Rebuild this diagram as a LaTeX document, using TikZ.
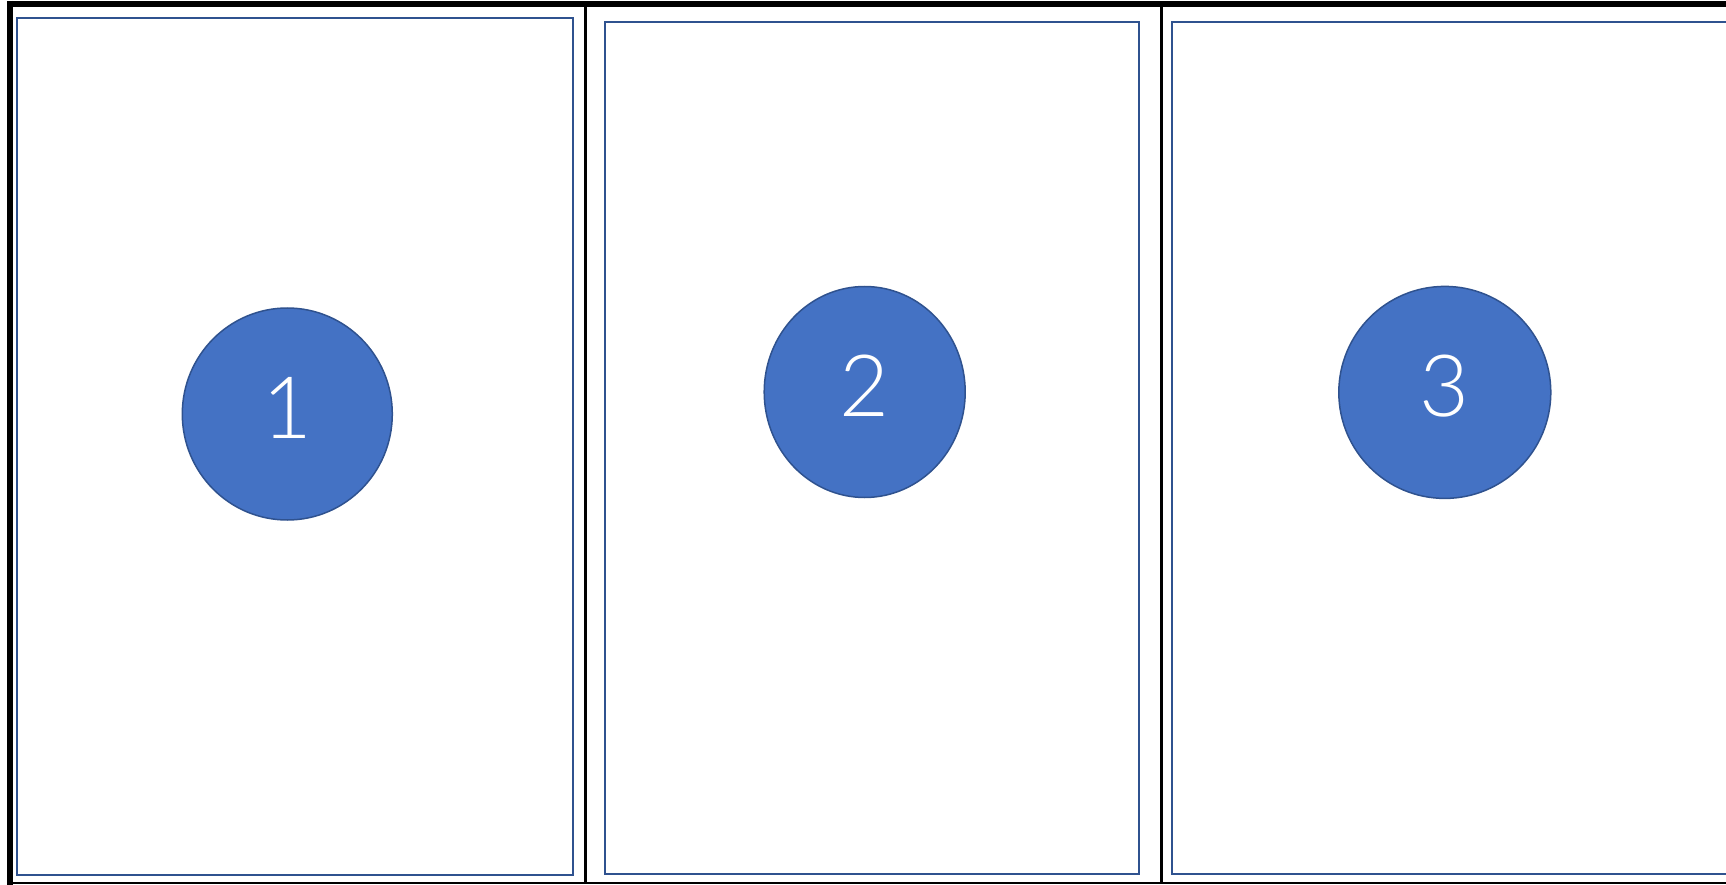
\documentclass[tikz,border=0pt]{standalone}
\usepackage{fontspec}
\setmainfont{Carlito}
\newfontfamily\numfont{Lato Light}
\usetikzlibrary{shapes.geometric}
\definecolor{accfill}{HTML}{4472C4}
\definecolor{accline}{HTML}{2F528F}
\tikzset{
  panel/.style={draw=accline, line width=2pt},
  frame/.style={draw=black},
  disc/.style={ellipse, fill=accfill, draw=accline, line width=1.5pt, inner sep=0pt},
  num/.style={text=white, font=\numfont\fontsize{86}{86}\selectfont, inner sep=0pt}
}
\begin{document}
\begin{tikzpicture}[x=1pt,y=-1pt]
\useasboundingbox (0,0) rectangle (1726,885);
% outer frame
\draw[frame, line width=6pt] (7,4) -- (1726,4);
\draw[frame, line width=6pt] (10,1) -- (10,885);
\draw[frame, line width=2pt] (7,883) -- (1726,883);
\draw[frame, line width=2.5pt] (585.7,4) -- (585.7,883);
\draw[frame, line width=2.5pt] (1161.7,4) -- (1161.7,883);
% panels
\draw[panel] (16.5,18) rectangle (573,874.5);
\draw[panel] (604.5,22) rectangle (1139,873.5);
\draw[panel] (1730,22) -- (1172,22) -- (1172,874) -- (1730,874);
% discs
\node[disc, minimum width=210pt, minimum height=212pt] (c1) at (287.3,414) {};
\node[disc, minimum width=201pt, minimum height=211pt] (c2) at (864.7,392) {};
\node[disc, minimum width=212pt, minimum height=212pt] (c3) at (1444.8,392.4) {};
\node[num] (t1) at (287.3,408) {1};
\node[num] (t2) at (864.7,386) {2};
\node[num] (t3) at (1444.8,386.5) {3};
\end{tikzpicture}
\end{document}
